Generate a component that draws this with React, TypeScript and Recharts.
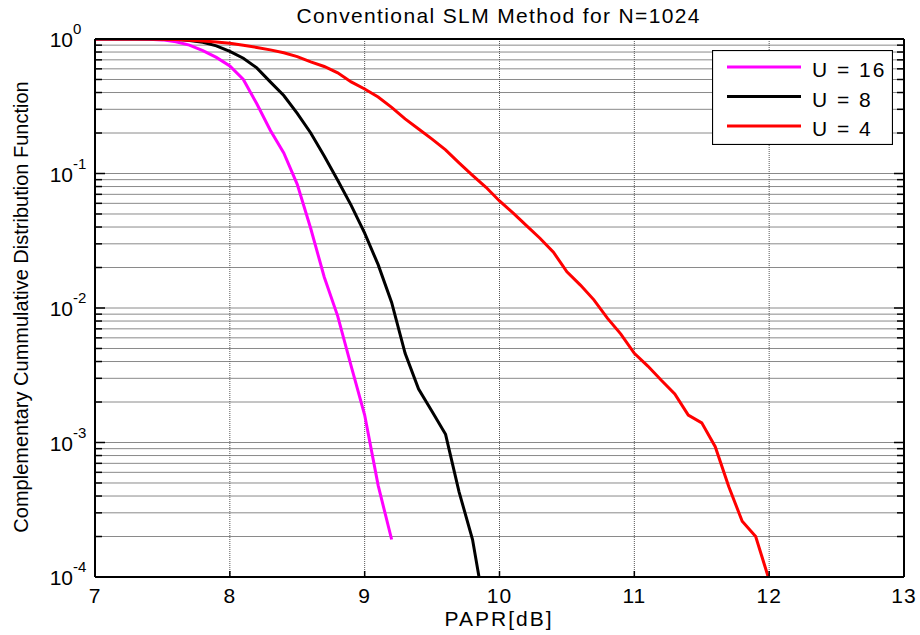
import React from 'react';
import { LineChart, Line, XAxis, YAxis, CartesianGrid, Legend } from 'recharts';

// PAPR threshold grid (dB), 0.1 dB steps as in the simulation
const paprGrid = [
  7.0, 7.1, 7.2, 7.3, 7.4, 7.5, 7.6, 7.7, 7.8, 7.9,
  8.0, 8.1, 8.2, 8.3, 8.4, 8.5, 8.6, 8.7, 8.8, 8.9,
  9.0, 9.1, 9.2, 9.3, 9.4, 9.5, 9.6, 9.7, 9.8, 9.9,
  10.0, 10.1, 10.2, 10.3, 10.4, 10.5, 10.6, 10.7, 10.8, 10.9,
  11.0, 11.1, 11.2, 11.3, 11.4, 11.5, 11.6, 11.7, 11.8, 11.9,
  12.0,
];

// CCDF values
const ccdfU16 = [
  1.0, 1.0, 1.0, 0.999, 0.995, 0.985, 0.955, 0.9, 0.82, 0.73,
  0.63, 0.5, 0.33, 0.21, 0.142, 0.083, 0.039, 0.017, 0.0087, 0.0037,
  0.0016, 0.00048, 0.00019,
];
const ccdfU8 = [
  1.0, 1.0, 1.0, 1.0, 1.0, 0.999, 0.995, 0.975, 0.945, 0.89,
  0.81, 0.72, 0.61, 0.48, 0.38, 0.28, 0.2, 0.135, 0.089, 0.058,
  0.036, 0.021, 0.011, 0.0046, 0.0025, 0.0017, 0.00115, 0.00043, 0.00019, 0.00005,
];
const ccdfU4 = [
  1.0, 1.0, 1.0, 1.0, 0.998, 0.995, 0.99, 0.98, 0.965, 0.95,
  0.93, 0.9, 0.865, 0.83, 0.79, 0.74, 0.675, 0.625, 0.56, 0.48,
  0.425, 0.37, 0.31, 0.255, 0.214, 0.18, 0.15, 0.12, 0.097, 0.079,
  0.0625, 0.051, 0.041, 0.033, 0.026, 0.0186, 0.0148, 0.0115, 0.0084, 0.0064,
  0.0046, 0.0037, 0.0029, 0.0023, 0.0016, 0.0014, 0.00093, 0.00047, 0.00026, 0.0002,
  0.000095,
];

const seriesNames = ['U = 16', 'U = 8', 'U = 4'];
const seriesColors = ['#ff00ff', '#000000', '#ff0000'];
const seriesValues = [ccdfU16, ccdfU8, ccdfU4];

const xTicks = [7, 8, 9, 10, 11, 12, 13];
const xGridTicks = [8, 9, 10, 11, 12];
const decadeTicks = [1e-4, 1e-3, 1e-2, 1e-1, 1];
const yTicks = [
  1e-4, 2e-4, 3e-4, 4e-4, 5e-4, 6e-4, 7e-4, 8e-4, 9e-4,
  1e-3, 2e-3, 3e-3, 4e-3, 5e-3, 6e-3, 7e-3, 8e-3, 9e-3,
  1e-2, 2e-2, 3e-2, 4e-2, 5e-2, 6e-2, 7e-2, 8e-2, 9e-2,
  1e-1, 2e-1, 3e-1, 4e-1, 5e-1, 6e-1, 7e-1, 8e-1, 9e-1,
  1,
];
const decadeExp = ['-4', '-3', '-2', '-1', '0'];

const series = seriesValues.map((vals, i) => ({
  name: seriesNames[i],
  color: seriesColors[i],
  rows: vals.map((v, j) => ({ papr: paprGrid[j], ccdf: v })),
}));

const FONT = '"Liberation Sans", Arial, sans-serif';

const LeftTick = ({ x, y, payload }: any) => {
  const k = decadeTicks.indexOf(payload.value);
  const major = k >= 0;
  return (
    <g>
      <line x1={x} x2={x + (major ? 10 : 7)} y1={y} y2={y} stroke="#000" strokeWidth={1.5} />
      {major && (
        <g fontFamily={FONT} fill="#000">
          <text x={x - 22} y={y + 8} textAnchor="end" fontSize={21}>10</text>
          <text x={x - 22} y={y - 5} textAnchor="start" fontSize={15}>{decadeExp[k]}</text>
        </g>
      )}
    </g>
  );
};

const RightTick = ({ x, y, payload }: any) => {
  const major = decadeTicks.includes(payload.value);
  return <line x1={x} x2={x - (major ? 10 : 7)} y1={y} y2={y} stroke="#000" strokeWidth={1.5} />;
};

const BottomTick = ({ x, y, payload }: any) => (
  <g>
    {xGridTicks.includes(payload.value) && (
      <line x1={x} x2={x} y1={y} y2={y - 6} stroke="#000" strokeWidth={1.5} />
    )}
    <text x={x} y={y + 26} textAnchor="middle" fontSize={21} fontFamily={FONT} fill="#000" letterSpacing={1}>
      {payload.value}
    </text>
  </g>
);

const TopTick = ({ x, y, payload }: any) =>
  xGridTicks.includes(payload.value) ? (
    <line x1={x} x2={x} y1={y} y2={y + 6} stroke="#000" strokeWidth={1.5} />
  ) : null;

const LegendBox = () => (
  <svg width={181} height={95} style={{ display: 'block' }}>
    <rect x={0.5} y={0.5} width={180} height={94} fill="#fff" stroke="#000" strokeWidth={1.2} />
    {series.map((s, i) => (
      <g key={s.name}>
        <line x1={15} x2={89} y1={17 + i * 29.5} y2={17 + i * 29.5} stroke={s.color} strokeWidth={3} />
        <text x={100} y={27 + i * 29.5} fontSize={21} fontFamily={FONT} fill="#000" letterSpacing={2}>
          {s.name}
        </text>
      </g>
    ))}
  </svg>
);

export default function App() {
  return (
    <div style={{ position: 'absolute', left: 0, top: 0, width: 920, height: 635, background: '#fff' }}>
      <LineChart width={920} height={635} margin={{ top: 38, right: 15, bottom: 28, left: 35 }}>
        <CartesianGrid vertical={false} stroke="#8a8a8a" strokeWidth={1} />
        <CartesianGrid horizontal={false} stroke="#555" strokeDasharray="1 1" />
        <XAxis
          dataKey="papr"
          type="number"
          domain={[7, 13]}
          ticks={xTicks}
          interval={0}
          height={30}
          tickSize={0}
          tickMargin={0}
          tick={<BottomTick />}
          axisLine={{ stroke: '#000', strokeWidth: 2 }}
          tickLine={false}
        />
        <XAxis
          xAxisId="top"
          orientation="top"
          dataKey="papr"
          type="number"
          domain={[7, 13]}
          ticks={xTicks}
          interval={0}
          height={1}
          tickSize={0}
          tickMargin={0}
          tick={<TopTick />}
          axisLine={{ stroke: '#000', strokeWidth: 2 }}
          tickLine={false}
        />
        <YAxis
          scale="log"
          domain={[1e-4, 1]}
          allowDataOverflow
          ticks={yTicks}
          interval={0}
          width={60}
          tickSize={0}
          tickMargin={0}
          tick={<LeftTick />}
          axisLine={{ stroke: '#000', strokeWidth: 2 }}
          tickLine={false}
        />
        <YAxis
          yAxisId="right"
          orientation="right"
          scale="log"
          domain={[1e-4, 1]}
          allowDataOverflow
          ticks={yTicks}
          interval={0}
          width={1}
          tickSize={0}
          tickMargin={0}
          tick={<RightTick />}
          axisLine={{ stroke: '#000', strokeWidth: 2 }}
          tickLine={false}
        />
        {series.map((s) => (
          <Line
            key={s.name}
            data={s.rows}
            dataKey="ccdf"
            name={s.name}
            type="linear"
            stroke={s.color}
            strokeWidth={3}
            dot={false}
            isAnimationActive={false}
          />
        ))}
        <Legend
          layout="vertical"
          align="center"
          verticalAlign="middle"
          width={181}
          height={95}
          wrapperStyle={{ left: 712, top: 50, right: 'auto', bottom: 'auto' }}
          content={<LegendBox />}
        />
      </LineChart>
      <svg
        width={920}
        height={635}
        style={{ position: 'absolute', left: 0, top: 0, pointerEvents: 'none' }}
        fontFamily={FONT}
      >
        <text x={498} y={23} textAnchor="middle" fontSize={21} fill="#000" textLength={403}>
          Conventional SLM Method for N=1024
        </text>
        <text x={498} y={626} textAnchor="middle" fontSize={21} fill="#000" textLength={107}>
          PAPR[dB]
        </text>
        <text x={28} y={307} textAnchor="middle" fontSize={20} fill="#000" transform="rotate(-90 28 307)">
          Complementary Cummulative Distribution Function
        </text>
      </svg>
    </div>
  );
}
